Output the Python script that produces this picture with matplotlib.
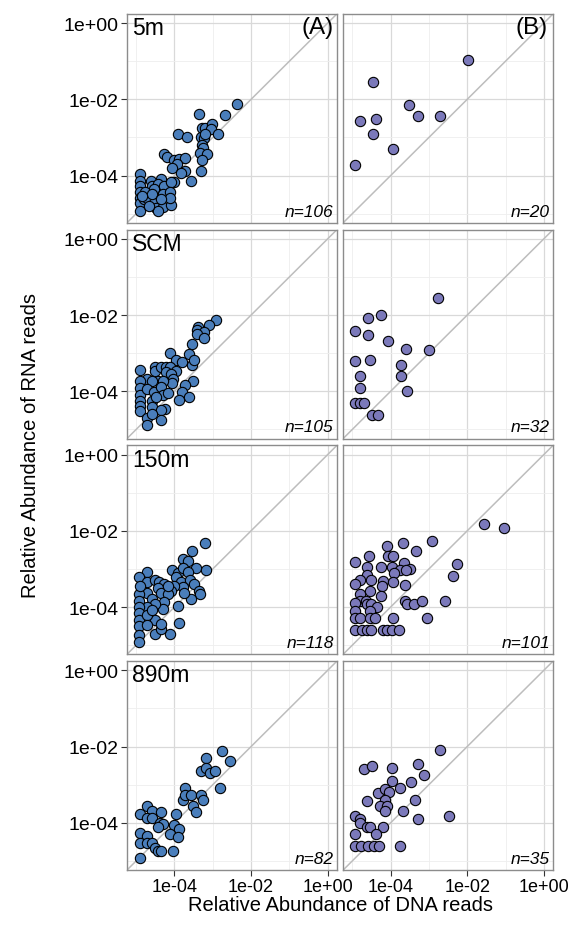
import matplotlib
matplotlib.use('Agg')
import matplotlib.pyplot as plt
import numpy as np

plt.rcParams['font.family'] = ['Liberation Sans', 'DejaVu Sans']

# values are log10 relative abundance
# column A (left), rows: 5m, SCM, 150m, 890m
a5_dna = [-2.37, -3.35, -2.69, -3.91, -3.67, -3.28, -3.21, -3.02, -3.04, -2.87, -3.31, -3.24, -3.20,
          -3.29, -3.25, -3.33, -3.16, -3.29, -3.32, -4.27, -4.20, -4.00, -3.87, -3.73, -3.93, -4.07,
          -3.72, -3.82, -3.58, -4.00, -4.91, -4.91, -4.91, -4.91, -4.91, -4.91, -4.91, -4.62, -4.60,
          -4.36, -4.44, -4.53, -4.27, -4.09, -4.31, -4.13, -4.80, -4.71, -4.53, -4.49, -4.29, -4.43,
          -4.09, -4.76, -4.60, -4.13, -4.84, -4.67, -4.36]
a5_rna = [-2.12, -2.39, -2.41, -2.90, -3.00, -2.76, -2.74, -2.65, -2.77, -2.92, -3.00, -3.02, -2.92,
          -3.20, -3.27, -3.40, -3.44, -3.60, -3.89, -3.44, -3.51, -3.58, -3.56, -3.53, -3.71, -3.80,
          -3.87, -3.93, -4.14, -4.16, -3.96, -4.13, -4.27, -4.43, -4.58, -4.73, -4.93, -4.15, -4.27,
          -4.09, -4.22, -4.36, -4.27, -4.18, -4.49, -4.44, -4.62, -4.60, -4.71, -4.84, -4.82, -4.93,
          -4.76, -4.44, -4.49, -4.58, -4.53, -4.80, -4.62]

scm_dna = [-2.91, -3.10, -3.38, -3.40, -3.24, -3.40, -3.23, -3.53, -4.12, -3.97, -3.81, -3.63, -3.53,
           -3.49, -3.51, -3.73, -3.80, -3.61, -3.87, -4.90, -4.71, -4.52, -4.52, -4.36, -4.22, -4.12,
           -4.21, -3.97, -4.09, -4.04, -4.07, -4.43, -4.29, -4.60, -4.90, -4.90, -4.90, -4.90, -4.90,
           -4.90, -4.73, -4.53, -4.36, -4.29, -4.60, -4.58, -4.25, -4.36, -4.71, -4.60, -4.36, -4.73,
           -4.49, -4.18]
scm_rna = [-2.14, -2.27, -2.31, -2.40, -2.44, -2.50, -2.61, -2.75, -3.00, -3.17, -3.22, -3.02, -3.32,
           -3.19, -3.72, -3.84, -4.03, -4.14, -4.24, -3.43, -3.67, -3.35, -3.47, -3.37, -3.35, -3.37,
           -3.50, -3.47, -3.54, -3.67, -3.78, -3.74, -3.74, -3.72, -3.72, -3.91, -4.11, -4.25, -4.38,
           -4.51, -3.94, -4.03, -3.88, -4.11, -4.25, -4.42, -4.47, -4.49, -4.70, -4.60, -4.76, -4.88,
           -4.16, -4.05]

m150_dna = [-3.20, -3.54, -3.77, -3.66, -3.45, -3.18, -4.07, -3.91, -3.78, -3.66, -3.96, -3.84, -3.60,
            -3.49, -3.36, -3.33, -3.57, -3.78, -3.75, -4.00, -4.09, -3.91, -3.89, -4.11, -4.51, -4.36,
            -4.51, -4.36, -4.73, -4.92, -4.71, -4.51, -4.40, -4.27, -4.44, -4.73, -4.58, -4.34, -4.18,
            -4.27, -4.31, -4.51, -4.71, -4.92, -4.92, -4.92, -4.92, -4.92, -4.92, -4.92, -4.92, -4.73,
            -4.73, -4.58, -4.18, -4.89]
m150_rna = [-2.32, -2.54, -2.75, -2.78, -2.98, -3.02, -3.03, -3.10, -2.97, -3.09, -3.22, -3.34, -3.29,
            -3.40, -3.59, -3.66, -3.80, -3.47, -3.64, -3.44, -3.57, -3.96, -4.43, -4.72, -4.72, -4.58,
            -4.34, -4.45, -3.07, -3.21, -3.34, -3.28, -3.35, -3.40, -3.49, -3.64, -3.78, -3.64, -3.66,
            -3.87, -4.04, -3.93, -4.00, -3.66, -3.83, -4.00, -4.16, -4.33, -4.50, -4.73, -4.91, -4.22,
            -4.47, -4.09, -3.44, -3.44]

m890_dna = [-2.76, -3.18, -2.56, -3.32, -3.18, -3.07, -2.93, -2.82, -3.73, -3.78, -3.72, -3.58, -3.32,
            -3.26, -3.51, -3.43, -3.96, -4.02, -3.88, -4.13, -3.91, -4.04, -4.73, -4.91, -4.60, -4.73,
            -4.59, -4.36, -4.37, -4.31, -4.44, -4.91, -4.73, -4.91, -4.73, -4.58, -4.51, -4.42, -4.34,
            -4.91]
m890_rna = [-2.11, -2.30, -2.39, -2.65, -2.57, -2.70, -2.64, -3.09, -3.10, -3.39, -3.26, -3.26, -3.26,
            -3.39, -3.55, -3.71, -3.78, -4.06, -4.16, -4.29, -4.37, -4.74, -3.55, -3.78, -3.70, -3.87,
            -3.87, -3.71, -4.00, -4.02, -4.12, -4.27, -4.35, -4.52, -4.52, -4.52, -4.65, -4.74, -4.74,
            -4.92]

# column B (right)
b5_dna = [-1.98, -4.45, -3.52, -3.29, -2.71, -4.79, -4.39, -4.45, -3.95, -4.94]
b5_rna = [-0.97, -1.55, -2.16, -2.43, -2.43, -2.58, -2.52, -2.92, -3.30, -3.73]

bscm_dna = [-2.76, -4.25, -4.60, -4.92, -4.60, -4.07, -3.59, -2.99, -4.92, -4.55, -3.72, -4.79, -3.74,
            -4.79, -3.56, -4.92, -4.79, -4.70, -4.49, -4.34]
bscm_rna = [-1.56, -2.00, -2.09, -2.41, -2.53, -2.68, -2.88, -2.91, -3.21, -3.19, -3.30, -3.60, -3.60,
            -3.92, -4.00, -4.31, -4.31, -4.31, -4.63, -4.63]

b150_dna = [-1.57, -1.03, -2.93, -3.68, -4.10, -3.35, -4.56, -4.07, -3.94, -2.27, -4.92, -4.62, -4.25,
            -3.97, -3.64, -3.76, -3.50, -3.61, -3.91, -2.37, -4.62, -4.79, -4.92, -4.50, -4.19, -4.23,
            -3.94, -3.63, -4.55, -4.79, -4.25, -4.79, -4.64, -4.92, -4.62, -4.50, -4.35, -3.63, -3.57,
            -3.40, -3.18, -2.58, -4.92, -4.55, -4.92, -4.79, -4.55, -4.41, -3.95, -3.05, -4.92, -4.75,
            -4.62, -4.50, -4.21, -4.09, -3.97, -3.78]
b150_rna = [-1.82, -1.93, -2.26, -2.32, -2.41, -2.54, -2.65, -2.67, -2.65, -2.88, -2.82, -2.95, -2.95,
            -2.94, -2.84, -3.03, -2.99, -3.03, -3.11, -3.18, -3.16, -3.29, -3.40, -3.29, -3.33, -3.44,
            -3.35, -3.41, -3.57, -3.66, -3.72, -3.83, -3.83, -3.89, -3.91, -3.91, -4.00, -3.83, -3.91,
            -3.91, -3.83, -3.83, -4.11, -4.11, -4.30, -4.30, -4.30, -4.30, -4.30, -4.30, -4.60, -4.60,
            -4.60, -4.60, -4.60, -4.60, -4.60, -4.60]

b890_dna = [-2.70, -4.69, -4.49, -3.97, -3.29, -3.12, -3.97, -3.48, -3.76, -4.32, -4.16, -4.03, -4.62,
            -4.15, -3.37, -4.29, -4.10, -4.16, -3.67, -2.47, -3.29, -4.92, -4.79, -4.79, -4.62, -4.53,
            -4.19, -4.39, -4.92, -4.92, -4.77, -4.60, -4.43, -4.30, -3.76]
b890_rna = [-2.08, -2.60, -2.50, -2.57, -2.47, -2.75, -2.90, -2.92, -3.10, -3.21, -3.12, -3.20, -3.43,
            -3.40, -3.40, -3.56, -3.56, -3.70, -3.68, -3.82, -3.90, -3.82, -3.90, -4.01, -4.12, -4.12,
            -4.12, -4.30, -4.30, -4.60, -4.60, -4.60, -4.60, -4.60, -4.60]

depths = ['5m', 'SCM', '150m', '890m']
counts_a = ['n=106', 'n=105', 'n=118', 'n=82']
counts_b = ['n=20', 'n=32', 'n=101', 'n=35']
col_a = [(a5_dna, a5_rna), (scm_dna, scm_rna), (m150_dna, m150_rna), (m890_dna, m890_rna)]
col_b = [(b5_dna, b5_rna), (bscm_dna, bscm_rna), (b150_dna, b150_rna), (b890_dna, b890_rna)]

color_a = '#4a7ebb'
color_b = '#7b79ba'
lim = (10 ** -5.24, 10 ** 0.24)

fig, axes = plt.subplots(4, 2, figsize=(5.68, 9.29), dpi=100)
fig.subplots_adjust(left=0.2236, right=0.9736, top=0.9839, bottom=0.0624, wspace=0.03, hspace=0.033)

for i in range(4):
    for j in range(2):
        ax = axes[i, j]
        dna, rna = (col_a if j == 0 else col_b)[i]
        ax.set_xscale('log')
        ax.set_yscale('log')
        ax.set_xlim(lim)
        ax.set_ylim(lim)
        ax.set_xticks([1e-4, 1e-2, 1e0])
        ax.set_yticks([1e-4, 1e-2, 1e0])
        ax.set_xticks([1e-5, 1e-3, 1e-1], minor=True)
        ax.set_yticks([1e-5, 1e-3, 1e-1], minor=True)
        ax.set_xticklabels(['1e-04', '1e-02', '1e+00'])
        ax.set_yticklabels(['1e-04', '1e-02', '1e+00'])
        ax.tick_params(which='minor', length=0, labelleft=False, labelbottom=False)
        ax.tick_params(which='major', length=4, color='#333333', labelsize=14, labelcolor='black', pad=2)
        ax.tick_params(axis='x', which='major', labelsize=13)
        ax.grid(True, which='major', color='#d9d9d9', linewidth=0.9)
        ax.grid(True, which='minor', color='#eeeeee', linewidth=0.6)
        ax.set_axisbelow(True)
        for s in ax.spines.values():
            s.set_color('#8c8c8c')
            s.set_linewidth(1.0)
        if j == 1:
            ax.tick_params(which='major', left=False, labelleft=False)
        if i < 3:
            ax.tick_params(which='major', bottom=False, labelbottom=False)

        ax.plot(lim, lim, color='#bdbdbd', linewidth=1.1, zorder=2)
        ax.scatter(10 ** np.array(dna), 10 ** np.array(rna), s=55,
                   color=color_a if j == 0 else color_b, edgecolor='black', linewidth=0.8, zorder=3)

        ax.text(0.985, 0.02, counts_a[i] if j == 0 else counts_b[i], transform=ax.transAxes,
                ha='right', va='bottom', fontsize=12.5, fontstyle='italic')
        if j == 0:
            ax.text(0.025, 0.99, depths[i], transform=ax.transAxes, ha='left', va='top', fontsize=16.5)

axes[0, 0].text(0.985, 0.99, '(A)', transform=axes[0, 0].transAxes, ha='right', va='top', fontsize=17.5)
axes[0, 1].text(0.975, 0.99, '(B)', transform=axes[0, 1].transAxes, ha='right', va='top', fontsize=17.5)

fig.text(0.053, 0.52, 'Relative Abundance of RNA reads', rotation=90, ha='center', va='center', fontsize=14.5)
fig.text(0.60, 0.025, 'Relative Abundance of DNA reads', ha='center', va='center', fontsize=14.5)

plt.savefig('out.png', dpi=100)
